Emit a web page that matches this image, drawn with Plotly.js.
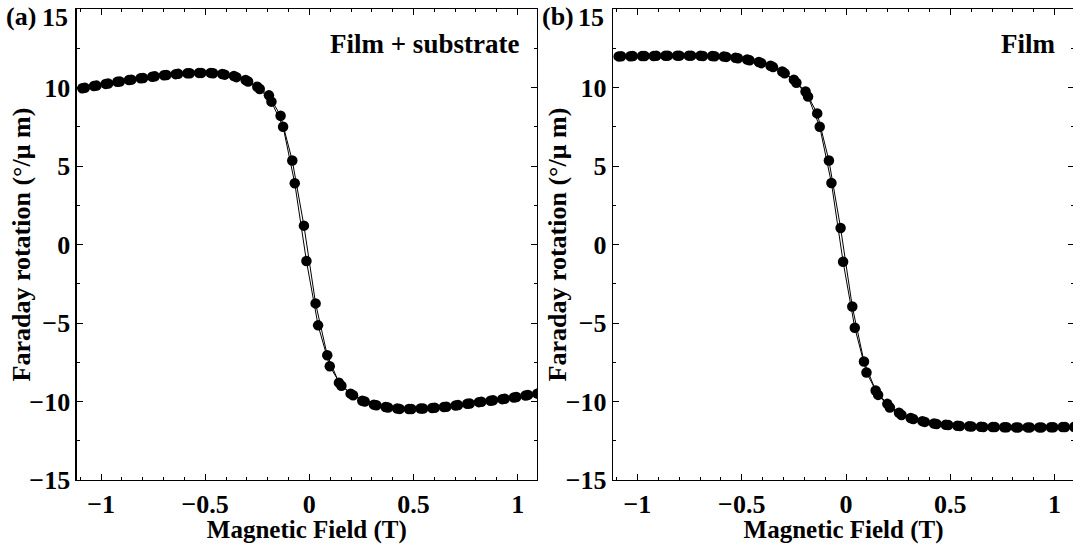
<!DOCTYPE html>
<html>
<head>
<meta charset="utf-8">
<script src="https://cdn.plot.ly/plotly-3.0.1.min.js"></script>
<style>html,body{margin:0;padding:0;overflow:hidden;background:#fff}</style>
</head>
<body>
<div id="chart"></div>
<script>
// Field sweep (T): branch up and branch down
const fieldUp = [-1.090,-1.034,-0.978,-0.922,-0.866,-0.810,-0.754,-0.698,-0.642,-0.586,
  -0.530,-0.474,-0.418,-0.362,-0.306,-0.250,-0.194,-0.138,-0.082,-0.026,
  0.030,0.086,0.142,0.198,0.254,0.310,0.366,0.422,0.478,0.534,
  0.590,0.646,0.702,0.758,0.814,0.870,0.926,0.982,1.038,1.094];
const fieldDown = [-1.078,-1.022,-0.966,-0.910,-0.854,-0.798,-0.742,-0.686,-0.630,-0.574,
  -0.518,-0.462,-0.406,-0.350,-0.294,-0.238,-0.182,-0.126,-0.070,-0.014,
  0.042,0.098,0.154,0.210,0.266,0.322,0.378,0.434,0.490,0.546,
  0.602,0.658,0.714,0.770,0.826,0.882,0.938,0.994,1.050,1.106];

// (a) Film + substrate, Faraday rotation (deg/um)
const subUp = [9.95,10.10,10.23,10.36,10.48,10.59,10.69,10.78,10.85,10.90,
  10.93,10.93,10.86,10.73,10.48,10.05,9.50,8.20,5.35,1.20,
  -3.75,-7.05,-8.80,-9.50,-9.95,-10.20,-10.35,-10.45,-10.48,-10.45,
  -10.41,-10.35,-10.25,-10.15,-10.04,-9.95,-9.85,-9.75,-9.62,-9.50];
const subDown = [9.98,10.12,10.25,10.38,10.50,10.61,10.71,10.80,10.87,10.91,
  10.93,10.91,10.82,10.66,10.38,9.90,9.10,7.50,3.90,-1.05,
  -5.15,-7.75,-9.00,-9.60,-10.00,-10.24,-10.38,-10.47,-10.48,-10.45,
  -10.40,-10.33,-10.23,-10.13,-10.02,-9.92,-9.82,-9.71,-9.58,-9.46];

// (b) Film only
const filmUp = [11.98,11.99,12.00,12.01,12.02,12.03,12.03,12.02,12.00,11.97,
  11.90,11.78,11.62,11.38,11.02,10.50,9.75,8.35,5.35,1.05,
  -3.95,-7.45,-9.30,-10.15,-10.72,-11.05,-11.25,-11.40,-11.48,-11.54,
  -11.58,-11.61,-11.63,-11.64,-11.65,-11.65,-11.65,-11.64,-11.63,-11.62];
const filmDown = [11.99,12.00,12.01,12.02,12.03,12.03,12.03,12.01,11.99,11.95,
  11.86,11.73,11.55,11.30,10.90,10.30,9.42,7.50,3.92,-1.10,
  -5.30,-8.15,-9.58,-10.38,-10.86,-11.12,-11.30,-11.43,-11.50,-11.56,
  -11.59,-11.62,-11.63,-11.64,-11.65,-11.65,-11.65,-11.64,-11.63,-11.62];

const xTickVals = [-1,-0.5,0,0.5,1];
const xTickText = ['−1','−0.5','0','0.5','1'];
const yTickVals = [-15,-10,-5,0,5,10,15];
const yTickText = ['−15','−10','−5','0','5','10',''];   // top label "15" drawn below as annotation so it is not cut off
const yTopLabel = '15';
const panelLabels = ['(a)','(b)'];
const panelTitles = ['Film + substrate','Film'];
const xTitle = 'Magnetic Field (T)';
const yTitle = 'Faraday rotation (°/μ m)';

const FONT = 'Liberation Serif, Times New Roman, serif';
function tr(x, y, xa, ya){
  return {x:x, y:y, xaxis:xa, yaxis:ya, type:'scatter', mode:'lines+markers',
    line:{color:'#000', width:1}, marker:{color:'#000', size:10.5}, showlegend:false};
}
const data = [
  tr(fieldUp, subUp, 'x', 'y'), tr(fieldDown, subDown, 'x', 'y'),
  tr(fieldUp, filmUp, 'x2', 'y2'), tr(fieldDown, filmDown, 'x2', 'y2')
];
function xax(dom, anchor){
  return {domain:dom, anchor:anchor, range:[-1.117,1.093], tickvals:xTickVals, ticktext:xTickText,
    ticks:'inside', ticklen:6, tickwidth:1, tickcolor:'#000', mirror:'ticks', showline:true, linecolor:'#000', linewidth:1.3,
    showgrid:false, zeroline:false, ticklabeloverflow:'allow',
    minor:{dtick:0.1, tick0:0, ticks:'inside', ticklen:3, tickcolor:'#000', showgrid:false},
    tickfont:{family:FONT, size:26, color:'#000', weight:'bold'},
    title:{text:'<b>'+xTitle+'</b>', font:{family:FONT, size:25, color:'#000'}, standoff:4}};
}
function yax(anchor){
  return {anchor:anchor, domain:[0,1], range:[-15,15], tickvals:yTickVals, ticktext:yTickText,
    ticks:'inside', ticklen:6, tickwidth:1, tickcolor:'#000', mirror:'ticks', showline:true, linecolor:'#000', linewidth:1.3,
    showgrid:false, zeroline:false, ticklabeloverflow:'allow',
    minor:{dtick:2.5, tick0:0, ticks:'inside', ticklen:3, tickcolor:'#000', showgrid:false},
    tickfont:{family:FONT, size:26, color:'#000', weight:'bold'}};
}
function ann(text, x, y, opts){
  return Object.assign({text:'<b>'+text+'</b>', xref:'paper', yref:'paper', x:x, y:y,
    xanchor:'center', yanchor:'middle', showarrow:false, font:{family:FONT, size:26, color:'#000'}}, opts||{});
}
const layout = {
  width:1074, height:544, margin:{l:0, r:0, t:9, b:64},
  paper_bgcolor:'#fff', plot_bgcolor:'#fff',
  xaxis: xax([0.0714,0.5], 'y'),
  yaxis: yax('x'),
  xaxis2: xax([0.5708,1.0], 'y2'),
  yaxis2: yax('x2'),
  annotations:[
    ann(panelLabels[0], 0.004, 0.984, {xanchor:'left'}),
    ann(panelLabels[1], 0.503, 0.984, {xanchor:'left'}),
    ann(yTopLabel, 70/1074, 0.983, {xanchor:'right'}),
    ann(yTopLabel, 606/1074, 0.983, {xanchor:'right'}),
    ann(panelTitles[0], 0.4855, 0.925, {xanchor:'right', font:{family:FONT, size:27, color:'#000'}}),
    ann(panelTitles[1], 0.9845, 0.925, {xanchor:'right', font:{family:FONT, size:27, color:'#000'}}),
    ann(yTitle, 21/1074, 0.5, {textangle:-90}),
    ann(yTitle, 557/1074, 0.5, {textangle:-90})
  ]
};
Plotly.newPlot('chart', data, layout, {displayModeBar:false, staticPlot:true});
</script>
</body>
</html>
